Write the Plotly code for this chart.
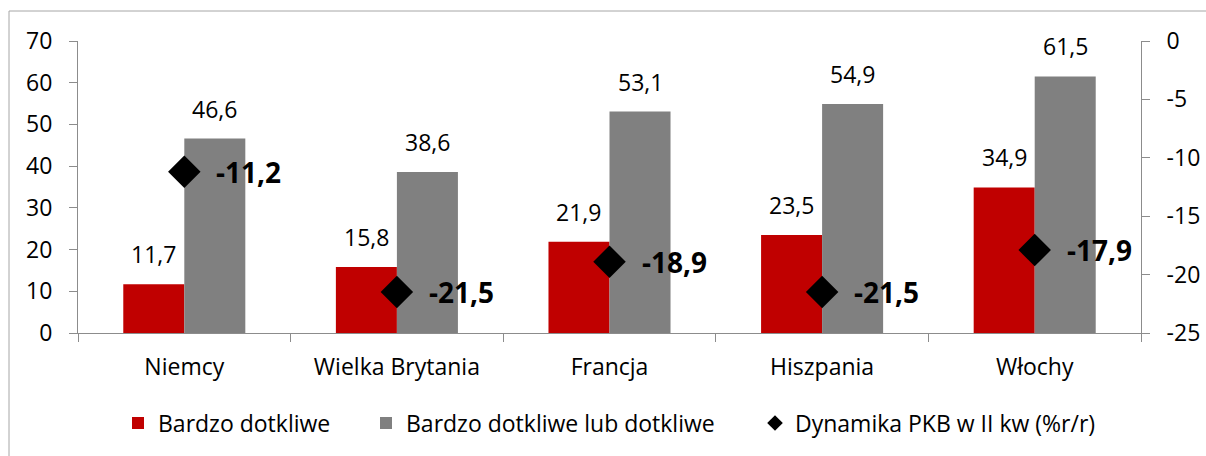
import plotly.graph_objects as go

categories = ["Niemcy", "Wielka Brytania", "Francja", "Hiszpania", "Włochy"]
bardzo = [11.7, 15.8, 21.9, 23.5, 34.9]
bardzo_lub = [46.6, 38.6, 53.1, 54.9, 61.5]
pkb = [-11.2, -21.5, -18.9, -21.5, -17.9]
y2_ticks = [0, -5, -10, -15, -20, -25]

def fmt(v):
    return f"{v:.1f}".replace(".", ",")

FONT = "Open Sans"
FS = 23
AX = "#8c8c8c"
BARGAP = 0.426
W, H = 1206, 456
L, R, T, B = 78, 65, 41, 123

fig = go.Figure()
fig.add_trace(go.Bar(x=categories, y=bardzo, name="Bardzo dotkliwe",
                     marker=dict(color="#C00000", line=dict(width=0)), legend="legend"))
fig.add_trace(go.Bar(x=categories, y=bardzo_lub, name="Bardzo dotkliwe lub dotkliwe",
                     marker=dict(color="#808080", line=dict(width=0)), legend="legend2"))
fig.add_trace(go.Scatter(x=categories, y=pkb, name="Dynamika PKB w II kw (%r/r)", yaxis="y2",
                         mode="markers", marker=dict(symbol="diamond", size=25, color="black"),
                         legend="legend3", cliponaxis=False))

half = (1 - BARGAP) / 4
ann = []
for i, c in enumerate(categories):
    ann.append(dict(x=i - half, y=bardzo[i], xref="x", yref="y", text=fmt(bardzo[i]),
                    showarrow=False, yanchor="bottom", yshift=12,
                    font=dict(family=FONT, size=FS, color="black")))
    ann.append(dict(x=i + half, y=bardzo_lub[i], xref="x", yref="y", text=fmt(bardzo_lub[i]),
                    showarrow=False, yanchor="bottom", yshift=12,
                    font=dict(family=FONT, size=FS, color="black")))
    ann.append(dict(x=i, y=pkb[i], xref="x", yref="y2", text="<b>" + fmt(pkb[i]) + "</b>",
                    showarrow=False, xanchor="left", xshift=30,
                    font=dict(family=FONT, size=28, color="black")))

pw = W - L - R
ph = H - T - B
shapes = [dict(type="rect", xref="paper", yref="paper",
               x0=(9 - L) / pw, x1=1.3, y0=-0.6, y1=1 + (T - 11) / ph,
               line=dict(color="#a6a6a6", width=1), fillcolor="rgba(0,0,0,0)", layer="below")]

legfont = dict(family=FONT, size=FS, color="black")
def leg(xpx, sizing="trace"):
    return dict(x=(xpx - L) / pw, xanchor="left", y=-(423 - (T + ph)) / ph, yanchor="middle",
                orientation="h", font=legfont, bgcolor="rgba(0,0,0,0)", xref="paper", yref="paper",
                visible=True, itemsizing=sizing)

fig.update_layout(
    width=W, height=H, margin=dict(l=L, r=R, t=T, b=B, autoexpand=False),
    paper_bgcolor="white", plot_bgcolor="white", showlegend=True,
    barmode="group", bargap=BARGAP, bargroupgap=0,
    font=dict(family=FONT, size=FS, color="black"),
    xaxis=dict(type="category", showline=True, linecolor=AX, linewidth=1,
               ticks="outside", tickson="boundaries", ticklen=8, tickcolor=AX,
               showgrid=False, tickfont=dict(family=FONT, size=FS, color="black"),
               ticklabelstandoff=13, automargin=False),
    yaxis=dict(range=[0, 70], dtick=10, showline=True, linecolor=AX, linewidth=1,
               ticks="outside", ticklen=8, tickcolor=AX, showgrid=False, zeroline=False,
               tickfont=dict(family=FONT, size=FS, color="black"), ticklabelstandoff=12,
               automargin=False),
    yaxis2=dict(range=[-25, 0], tickvals=y2_ticks, ticktext=[str(v) for v in y2_ticks],
                overlaying="y", side="right", showline=True,
                linecolor=AX, linewidth=1, ticks="outside", ticklen=8, tickcolor=AX,
                showgrid=False, zeroline=False, automargin=False,
                tickfont=dict(family=FONT, size=FS, color="black"), ticklabelstandoff=12),
    annotations=ann, shapes=shapes,
    legend=leg(118), legend2=leg(366), legend3=leg(755, "constant"),
)
fig.write_html("out.html")
